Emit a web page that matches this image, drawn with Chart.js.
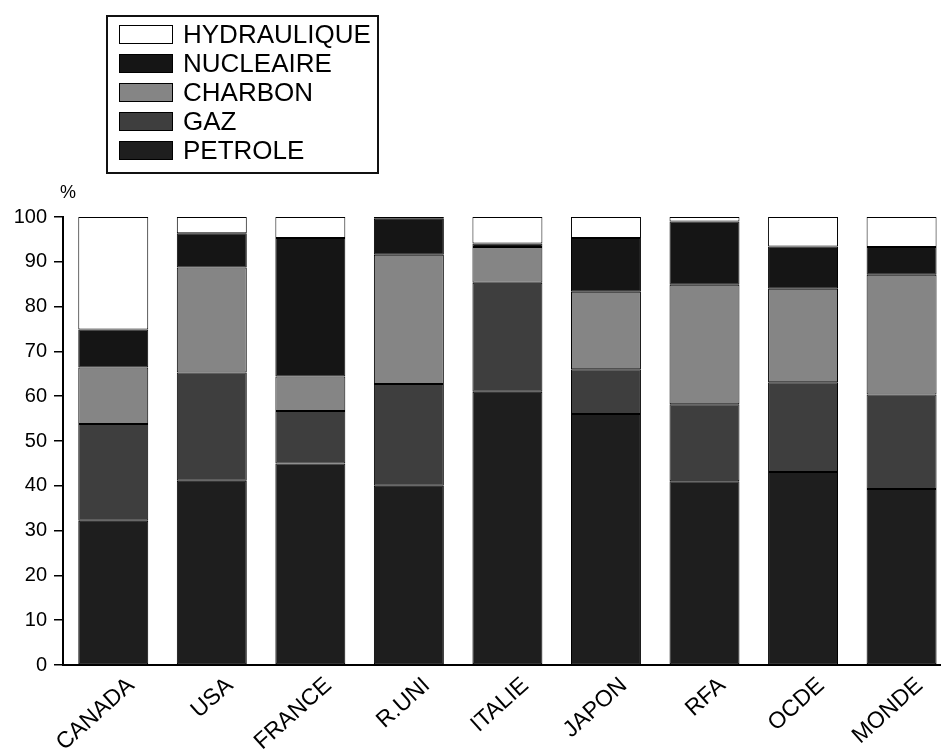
<!DOCTYPE html>
<html>
<head>
<meta charset="utf-8">
<script src="https://cdn.jsdelivr.net/npm/chart.js@4.4.0/dist/chart.umd.min.js"></script>
<style>
  html, body { margin: 0; padding: 0; background: #fff; overflow: hidden; }
  #wrap { position: relative; width: 941px; height: 749px; }
  #legende {
    position: absolute; left: 106px; top: 15px; width: 269px; height: 152px;
    border: 2px solid #111; padding-top: 3px; box-sizing: content-box;
    font-family: "Liberation Sans", Arial, sans-serif; font-size: 26px; color: #000;
  }
  #legende .item { height: 29px; line-height: 29px; position: relative; }
  #legende .swatch {
    position: absolute; left: 11px; top: 5px; width: 52px; height: 17px;
    border: 1.5px solid #000;
  }
  #legende .txt { position: absolute; left: 75px; top: 0; }
</style>
</head>
<body>
<div id="wrap">
  <canvas id="energieChart" width="941" height="749"></canvas>
  <div id="legende"></div>
</div>
<script>
// pays et parts (%)
const pays = ['CANADA', 'USA', 'FRANCE', 'R.UNI', 'ITALIE', 'JAPON', 'RFA', 'OCDE', 'MONDE'];
const petrole = [32.2, 41.1, 45.0, 40.0, 61.0, 56.0, 41.0, 43.1, 39.3];
const gaz = [21.6, 24.2, 11.7, 22.7, 24.3, 10.0, 17.2, 20.0, 21.1];
const charbon = [12.6, 23.4, 7.7, 28.9, 8.0, 17.3, 26.7, 20.9, 26.7];
const nucleaire = [8.5, 7.7, 30.9, 8.0, 0.8, 12.0, 14.1, 9.4, 6.2];
const hydraulique = [25.1, 3.6, 4.7, 0.4, 5.9, 4.7, 1.0, 6.6, 6.7];
const yTicks = [0, 10, 20, 30, 40, 50, 60, 70, 80, 90, 100];

const police = '"Liberation Sans", Arial, sans-serif';

function serie(label, values, color) {
  return {
    label: label,
    data: values.map((v, i) => ({ x: i + 1, y: v })),
    backgroundColor: color,
    borderColor: '#000',
    borderWidth: 1,
    borderSkipped: false,
    barPercentage: 0.71,
    categoryPercentage: 1
  };
}

// le petit "%" au-dessus de l'axe
const pourcent = {
  id: 'pourcent',
  afterDraw(chart) {
    const ctx = chart.ctx;
    ctx.save();
    ctx.font = '18px ' + police;
    ctx.fillStyle = '#000';
    ctx.textBaseline = 'middle';
    ctx.fillText('%', chart.chartArea.left - 3, chart.chartArea.top - 24);
    ctx.restore();
  }
};

const chart = new Chart(document.getElementById('energieChart'), {
  type: 'bar',
  data: {
    datasets: [
      serie('PETROLE', petrole, '#1e1e1e'),
      serie('GAZ', gaz, '#3e3e3e'),
      serie('CHARBON', charbon, '#858585'),
      serie('NUCLEAIRE', nucleaire, '#151515'),
      serie('HYDRAULIQUE', hydraulique, '#ffffff')
    ]
  },
  options: {
    responsive: false,
    animation: false,
    layout: { padding: { top: 217, left: 0, right: 0, bottom: 0 } },
    plugins: { legend: { display: false }, tooltip: { enabled: false } },
    scales: {
      x: {
        type: 'linear',
        stacked: true,
        min: 0.49,
        max: 9.4,
        offset: false,
        afterBuildTicks: axis => { axis.ticks = pays.map((_, i) => ({ value: i + 1 })); },
        afterFit: scale => { scale.height = 84; },
        grid: { display: false, drawTicks: false, offset: false },
        border: { display: true, color: '#000', width: 2 },
        ticks: {
          autoSkip: false,
          minRotation: 42,
          maxRotation: 42,
          padding: 7,
          labelOffset: 18,
          color: '#000',
          font: { family: police, size: 23 },
          callback: v => pays[v - 1] || ''
        }
      },
      y: {
        stacked: true,
        min: 0,
        max: 100,
        afterBuildTicks: axis => { axis.ticks = yTicks.map(v => ({ value: v })); },
        afterFit: scale => { scale.width = 63; },
        grid: { drawOnChartArea: false, drawTicks: true, tickLength: 9, color: '#000', lineWidth: 1.5 },
        border: { display: true, color: '#000', width: 2 },
        ticks: {
          padding: 7,
          color: '#000',
          font: { family: police, size: 20 }
        }
      }
    }
  },
  plugins: [pourcent]
});

// légende encadrée, de haut en bas comme sur l'original
const legende = document.getElementById('legende');
chart.data.datasets.slice().reverse().forEach(ds => {
  const item = document.createElement('div');
  item.className = 'item';
  item.innerHTML = `<span class="swatch" style="background:${ds.backgroundColor}"></span><span class="txt">${ds.label}</span>`;
  legende.appendChild(item);
});
</script>
</body>
</html>
